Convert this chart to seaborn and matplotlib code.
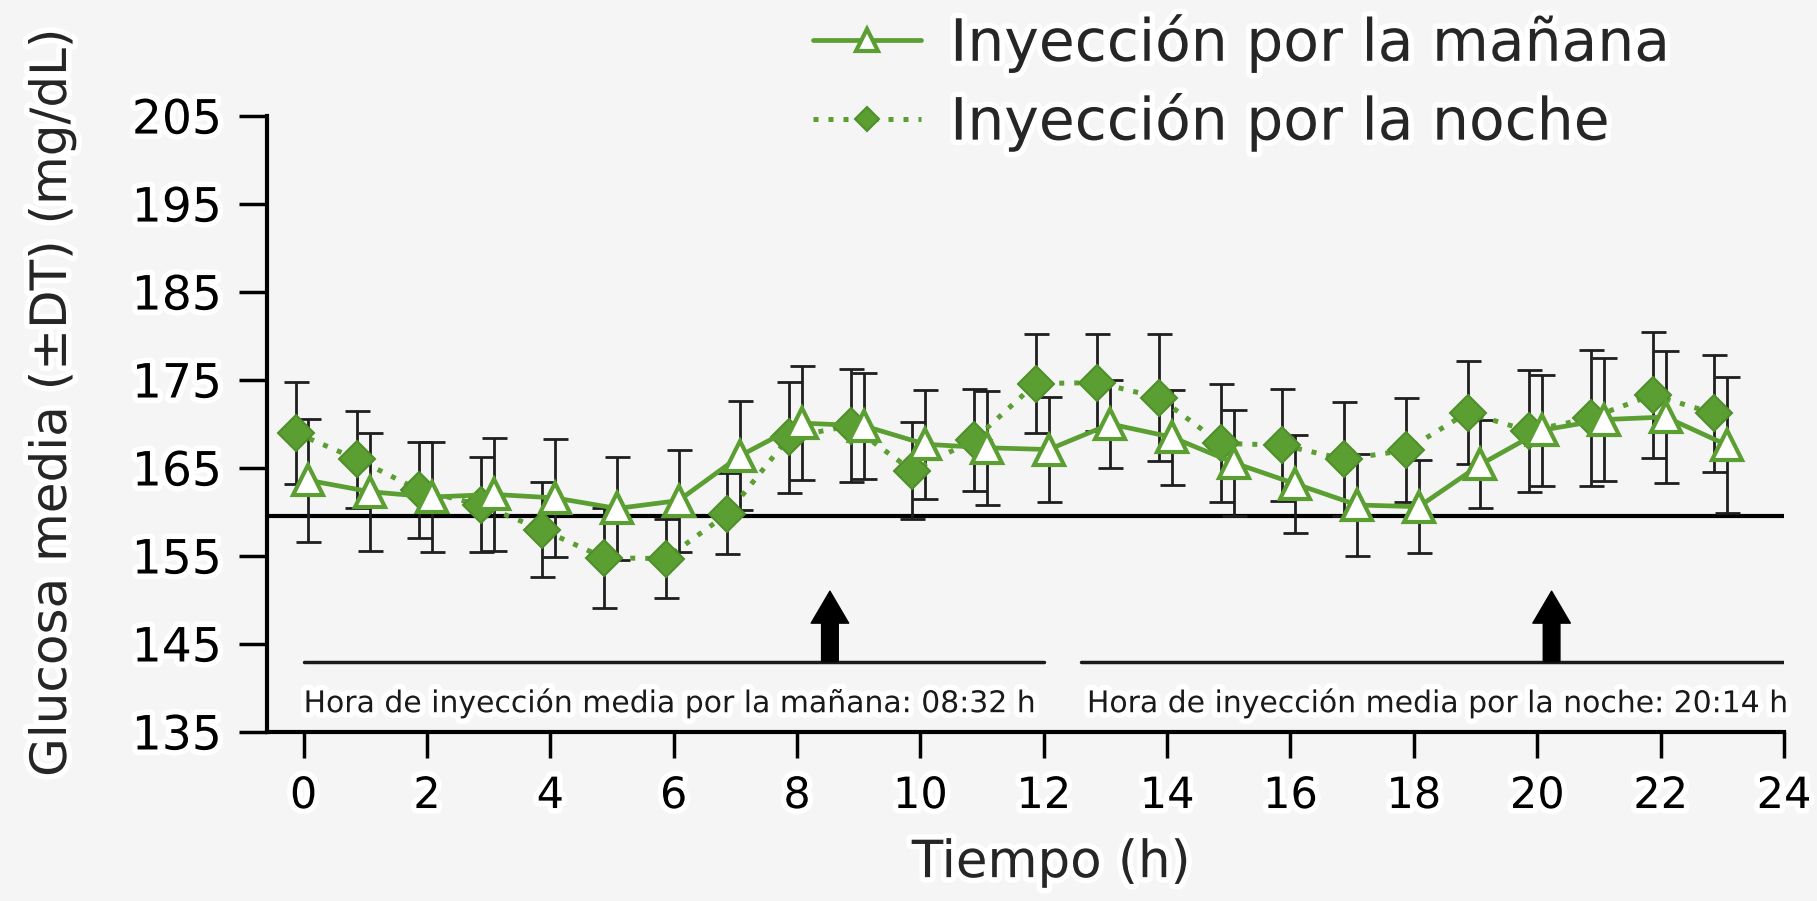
import numpy as np
import pandas as pd
import matplotlib
matplotlib.use("Agg")
import matplotlib.pyplot as plt
import matplotlib.patheffects as pe
import seaborn as sns

# ---- data ----
hours = list(range(24))
morning_mean = [163.6, 162.3, 161.7, 162.0, 161.6, 160.4, 161.3, 166.4, 170.1, 169.8, 167.7, 167.3,
                167.1, 170.0, 168.5, 165.6, 163.2, 160.8, 160.6, 165.4, 169.3, 170.5, 170.8, 167.6]
morning_sd = [7.0, 6.7, 6.3, 6.4, 6.7, 5.8, 5.8, 6.2, 6.5, 6.0, 6.2, 6.5,
              6.0, 5.0, 5.4, 6.0, 5.6, 5.8, 5.3, 5.0, 6.3, 7.0, 7.5, 7.7]
night_mean = [169.0, 166.0, 162.5, 160.8, 158.0, 154.8, 154.7, 159.8, 168.5, 169.8, 164.7, 168.2,
              174.6, 174.7, 173.0, 167.8, 167.6, 166.0, 167.0, 171.3, 169.2, 170.7, 173.3, 171.2]
night_sd = [5.8, 5.5, 5.4, 5.4, 5.4, 5.7, 4.5, 4.6, 6.3, 6.4, 5.5, 5.8,
            5.6, 5.5, 7.2, 6.7, 6.4, 6.5, 5.9, 5.9, 6.9, 7.7, 7.2, 6.6]
series_labels = ["Inyección por la mañana", "Inyección por la noche"]
reference_level = 159.6
injection_times = [8 + 32 / 60, 20 + 14 / 60]
injection_texts = ["Hora de inyección media por la mañana: 08:32 h",
                   "Hora de inyección media por la noche: 20:14 h"]
yticks = [135, 145, 155, 165, 175, 185, 195, 205]
xticks = list(range(0, 25, 2))

GREEN = "#5b9e32"
BG = "#f5f5f5"
halo = [pe.withStroke(linewidth=8, foreground="white")]

sns.set_theme(style="ticks")
plt.rcParams["font.family"] = ["DejaVu Sans"]

fig = plt.figure(figsize=(18.17, 9.01), dpi=100, facecolor=BG)
ax = fig.add_axes([0.1467, 0.1876, 0.8351, 0.6836])
ax.set_facecolor(BG)

df_m = pd.DataFrame({"h": np.array(hours) + 0.08, "g": morning_mean, "sd": morning_sd})
df_n = pd.DataFrame({"h": np.array(hours) - 0.13, "g": night_mean, "sd": night_sd})

# error bars
for df in (df_n, df_m):
    ax.errorbar(df["h"], df["g"], yerr=df["sd"], fmt="none", ecolor="#1e1e1e",
                elinewidth=2.0, capsize=9, capthick=2.0, zorder=2)

sns.lineplot(data=df_n, x="h", y="g", ax=ax, color=GREEN, linewidth=3.6,
             linestyle=(0, (1.0, 2.0)), marker="D", markersize=18,
             markerfacecolor=GREEN, markeredgecolor="#4f8f2a", markeredgewidth=1.5,
             label=series_labels[1], zorder=4, errorbar=None)
sns.lineplot(data=df_m, x="h", y="g", ax=ax, color=GREEN, linewidth=3.4,
             marker="^", markersize=22, markerfacecolor="white",
             markeredgecolor=GREEN, markeredgewidth=3.0,
             label=series_labels[0], zorder=5, errorbar=None)

ax.axhline(reference_level, color="black", linewidth=3, zorder=1)

# injection timeline lines, arrows and text
ax.plot([0, 12.0], [143, 143], color="#1a1a1a", linewidth=2.5, zorder=1)
ax.plot([12.6, 24], [143, 143], color="#1a1a1a", linewidth=2.5, zorder=1)
for t in injection_times:
    ax.annotate("", xy=(t, 151.0), xytext=(t, 143.0),
                arrowprops=dict(arrowstyle="simple,head_length=23,head_width=27,tail_width=12",
                                mutation_scale=1, color="black", shrinkA=0, shrinkB=0),
                zorder=3)
ax.text(0, 138.3, injection_texts[0], fontsize=21.5, va="center", ha="left",
        color="#1a1a1a", path_effects=halo)
ax.text(12.7, 138.3, injection_texts[1], fontsize=21.5, va="center", ha="left",
        color="#1a1a1a", path_effects=halo)

# axes styling
ax.set_xlim(-0.6, 24)
ax.set_ylim(135, 205)
ax.set_xticks(xticks)
ax.set_yticks(yticks)
ax.set_xticklabels([str(v) for v in xticks])
ax.set_yticklabels([str(v) for v in yticks])
for s in ("top", "right"):
    ax.spines[s].set_visible(False)
for s in ("left", "bottom"):
    ax.spines[s].set_linewidth(3)
    ax.spines[s].set_color("black")
ax.tick_params(axis="y", length=20, width=2.5, pad=12, labelsize=34, colors="black")
ax.tick_params(axis="x", length=19, width=2.5, pad=12, labelsize=31, colors="black")
for lab in ax.get_xticklabels() + ax.get_yticklabels():
    lab.set_path_effects(halo)
ax.set_xlabel("")
ax.set_ylabel("")

fig.text(0.5785, 0.042, "Tiempo (h)", fontsize=37, ha="center", va="center",
         path_effects=halo)
fig.text(0.0286, 0.553, "Glucosa media (±DT) (mg/dL)", fontsize=36, rotation=90,
         ha="center", va="center", path_effects=halo)

# legend
handles, labels = ax.get_legend_handles_labels()
if ax.get_legend():
    ax.get_legend().remove()
order = [labels.index(series_labels[0]), labels.index(series_labels[1])]
leg = fig.legend([handles[i] for i in order], [labels[i] for i in order],
                 loc="upper left", bbox_to_anchor=(0.425, 1.03), frameon=False,
                 fontsize=42, handlelength=1.85, handletextpad=0.5, labelspacing=0.34,
                 markerscale=0.7, borderpad=0.2)
for t in leg.get_texts():
    t.set_path_effects(halo)

fig.savefig("out.png", dpi=100, facecolor=BG)
